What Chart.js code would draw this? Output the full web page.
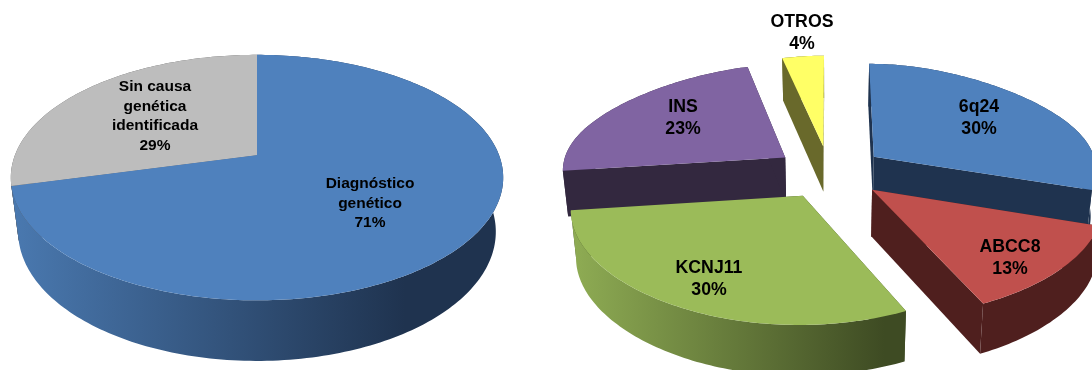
<!DOCTYPE html>
<html lang="es">
<head>
  <meta charset="UTF-8">
  <title>Diagnóstico genético</title>
  <script src="https://cdn.jsdelivr.net/npm/chart.js"></script>
  <style>
    html, body { margin: 0; padding: 0; background: #fff; overflow: hidden; }
    #wrap { position: relative; width: 1092px; height: 370px; }
    .pie { position: absolute; top: 0; width: 546px; height: 370px; }
    #pieLeft { left: 0; }
    #pieRight { left: 546px; }
  </style>
</head>
<body>
  <div id="wrap">
    <div class="pie" id="pieLeft"><canvas id="leftChart"></canvas></div>
    <div class="pie" id="pieRight"><canvas id="rightChart"></canvas></div>
  </div>

  <script>
    // Data
    const leftCategories = [['Diagnóstico', 'genético'], ['Sin causa', 'genética', 'identificada']];
    const leftValues = [71, 29];
    const rightCategories = [['6q24'], ['ABCC8'], ['KCNJ11'], ['INS'], ['OTROS']];
    const rightValues = [30, 13, 30, 23, 4];

    // Colours of the slices: face, side at its lightest, side at its darkest
    const leftFaces = ['#4F81BD', '#BDBDBD'];
    const leftLits = ['#4A79B0', '#5A5A5A'];
    const leftDarks = ['#1F334F', '#5A5A5A'];
    const rightFaces = ['#4F81BD', '#C0504D', '#9BBB59', '#8064A2', '#FFFF66'];
    const rightLits = ['#1F334F', '#4F1F1E', '#91AF55', '#33283F', '#69692B'];
    const rightDarks = ['#1F334F', '#4F1F1E', '#3E4B23', '#33283F', '#69692B'];

    // Label centres on the page canvas
    const leftLabelSpots = [[370, 184], [155, 87]];
    const rightLabelSpots = [[433, 107], [464, 247], [163, 268], [137, 107], [256, 22]];

    // Tilted pie: takes the library's arc geometry and projects it on a tilted disc
    const tiltedPie = {
      id: 'tiltedPie',
      beforeDatasetDraw(chart, args, o) {
        const ctx = chart.ctx;
        const arcs = args.meta.data;
        const ds = chart.data.datasets[0];

        const project = (arc, px, py, low) => {
          const s = 1 / (1 - o.persp * py / arc.outerRadius);
          const m = low ? o.shrink : 1;
          return [
            arc.x + px * s * m,
            arc.y + o.squash * py * s * m + (low ? o.depth * s : 0)
          ];
        };
        const planePoint = (arc, angle, r) => {
          const mid = (arc.startAngle + arc.endAngle) / 2;
          const off = arc.options.offset || 0;
          const sin = Math.sin(angle);
          // the tilted view pulls the near-vertical edges in a little
          const narrow = 1 - (sin < 0 ? o.backNarrow : o.frontNarrow) * sin * sin;
          return [
            Math.cos(mid) * off + Math.cos(angle) * r * narrow,
            Math.sin(mid) * off + sin * r
          ];
        };
        const rimAngles = arc => {
          const list = [];
          const n = Math.ceil((arc.endAngle - arc.startAngle) / 0.02);
          for (let i = 0; i <= n; i++) list.push(arc.startAngle + (arc.endAngle - arc.startAngle) * i / n);
          return list;
        };
        const fillPoly = (pts, color) => {
          ctx.beginPath();
          pts.forEach((p, i) => i ? ctx.lineTo(p[0], p[1]) : ctx.moveTo(p[0], p[1]));
          ctx.closePath();
          ctx.fillStyle = color;
          ctx.fill();
        };

        // shading runs across the whole pie, light at the left
        let minX = Infinity, maxX = -Infinity;
        arcs.forEach(arc => rimAngles(arc).forEach(a => {
          const q = planePoint(arc, a, arc.outerRadius);
          const p = project(arc, q[0], q[1], false);
          minX = Math.min(minX, p[0]);
          maxX = Math.max(maxX, p[0]);
        }));
        const darkAt = minX + (maxX - minX) * o.shadeEnd;

        // cut walls first, then the rims, faces on top of them
        arcs.forEach((arc, i) => {
          [arc.startAngle, arc.endAngle].forEach(a => {
            const c = planePoint(arc, a, 0), e = planePoint(arc, a, arc.outerRadius);
            fillPoly([
              project(arc, c[0], c[1], false), project(arc, e[0], e[1], false),
              project(arc, e[0], e[1], true), project(arc, c[0], c[1], true)
            ], ds.sideDark[i]);
          });
        });
        arcs.slice().reverse().forEach(arc => {
          const i = arcs.indexOf(arc);
          const topEdge = [], lowEdge = [];
          rimAngles(arc).forEach(a => {
            const q = planePoint(arc, a, arc.outerRadius);
            topEdge.push(project(arc, q[0], q[1], false));
            lowEdge.push(project(arc, q[0], q[1], true));
          });
          const grad = ctx.createLinearGradient(minX, 0, darkAt, 0);
          grad.addColorStop(0, ds.sideLit[i]);
          grad.addColorStop(1, ds.sideDark[i]);
          fillPoly(topEdge.concat(lowEdge.reverse()), grad);
        });
        arcs.forEach((arc, i) => {
          const c = planePoint(arc, 0, 0);
          const pts = [project(arc, c[0], c[1], false)];
          rimAngles(arc).forEach(a => {
            const q = planePoint(arc, a, arc.outerRadius);
            pts.push(project(arc, q[0], q[1], false));
          });
          fillPoly(pts, ds.backgroundColor[i]);
        });
        return false;
      },
      afterDraw(chart, args, o) {
        const ctx = chart.ctx;
        const ds = chart.data.datasets[0];
        ctx.save();
        ctx.font = 'bold ' + o.fontSize + 'px "Liberation Sans", Arial, sans-serif';
        ctx.fillStyle = '#000';
        ctx.textAlign = 'center';
        ctx.textBaseline = 'middle';
        chart.data.labels.forEach((label, i) => {
          const lines = label.concat(ds.data[i] + '%');
          lines.forEach((line, j) => {
            ctx.fillText(line, o.spots[i][0], o.spots[i][1] + j * o.lineHeight);
          });
        });
        ctx.restore();
      }
    };

    function makePie(id, labels, values, faces, lits, darks, radius, offset, padding, tilt) {
      new Chart(document.getElementById(id), {
        type: 'pie',
        data: {
          labels: labels,
          datasets: [{
            data: values,
            backgroundColor: faces,
            sideLit: lits,
            sideDark: darks,
            borderWidth: 0,
            offset: offset,
            radius: radius
          }]
        },
        options: {
          responsive: true,
          maintainAspectRatio: false,
          animation: false,
          layout: { padding: padding },
          plugins: {
            legend: { display: false },
            tooltip: { enabled: false },
            tiltedPie: tilt
          }
        },
        plugins: [tiltedPie]
      });
    }

    makePie('leftChart', leftCategories, leftValues, leftFaces, leftLits, leftDarks, 242, 0,
      { right: 32, bottom: 60 },
      { persp: 0.184, squash: 0.49, depth: 53, shrink: 0.97, shadeEnd: 0.8,
        backNarrow: 0, frontNarrow: 0,
        spots: leftLabelSpots, fontSize: 15.5, lineHeight: 19.6 });

    makePie('rightChart', rightCategories, rightValues, rightFaces, rightLits, rightDarks, 224, 55,
      { left: 22, bottom: 26 },
      { persp: 0.12, squash: 0.48, depth: 46, shrink: 0.98, shadeEnd: 0.6,
        backNarrow: 0.15, frontNarrow: 0.04,
        spots: rightLabelSpots, fontSize: 17.7, lineHeight: 21.8 });
  </script>
</body>
</html>
